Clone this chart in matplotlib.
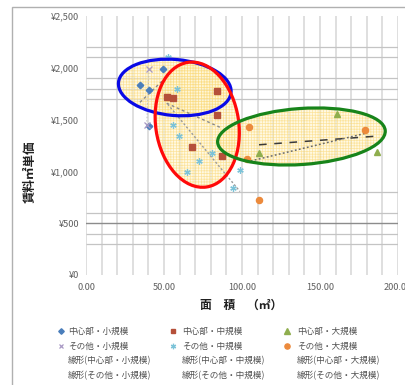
import numpy as np
import matplotlib
matplotlib.use('Agg')
import matplotlib.pyplot as plt
from matplotlib.patches import Ellipse, Rectangle
from matplotlib.lines import Line2D
from matplotlib.transforms import ScaledTranslation

plt.rcParams['font.family'] = ['Noto Sans CJK JP', 'DejaVu Sans']
plt.rcParams['hatch.linewidth'] = 0.5

# --- data (面積 ㎡, 賃料㎡単価 円) ---
center_small_x = [34.6, 40.4, 40.4, 49.2]
center_small_y = [1834, 1786, 1438, 1988]
center_mid_x = [51.7, 56.0, 83.8, 84.2, 67.8, 87.4]
center_mid_y = [1718, 1708, 1779, 1541, 1233, 1149]
center_large_x = [110.9, 160.7, 186.7]
center_large_y = [1175, 1551, 1184]
other_small_x = [40.4, 38.9]
other_small_y = [1988, 1448]
other_mid_x = [52.4, 58.1, 56.0, 59.6, 64.6, 72.6, 80.6, 98.7, 94.4]
other_mid_y = [2107, 1795, 1448, 1337, 999, 1103, 1181, 1014, 843]
other_large_x = [103.0, 104.7, 110.9, 178.8]
other_large_y = [1120, 1431, 724, 1400]

series_names = ['中心部・小規模', '中心部・中規模', '中心部・大規模',
                'その他・小規模', 'その他・中規模', 'その他・大規模']
trend_names = ['線形(中心部・小規模)', '線形(中心部・中規模)', '線形(中心部・大規模)',
               '線形(その他・小規模)', '線形(その他・中規模)', '線形(その他・大規模)']

x_ticks = [0, 50, 100, 150, 200]
y_ticks = [0, 500, 1000, 1500, 2000, 2500]
hgrid_vals = [2200, 2100, 1900, 1800, 1700, 800, 600, 400, 300]

# circled groups: centre (data), width/height (inch), angle, colour
ell_cx = [56.9, 71.3, 138.1]
ell_cy = [1810, 1451, 1337]
ell_w = [1.13, 0.83, 1.68]
ell_h = [0.56, 1.26, 0.56]
ell_ang = [-5, 8.6, 4]
ell_col = ['#0a0ae6', '#ff0a0a', '#17841a']

styles = [
    dict(marker='D', color='#4a7ebb', ms=3.3),
    dict(marker='s', color='#b5503a', ms=4.2),
    dict(marker='^', color='#8fae4e', ms=4.6),
    dict(marker='x', color='#a898c4', ms=4.0, mew=0.9),
    dict(marker=(6, 2, 0), color='#7cc3d8', ms=4.6, mew=0.9),
    dict(marker='o', color='#ec8a3c', ms=4.4),
]
trend_styles = [
    dict(color='#8a8a8a', ls=(0, (2, 2)), lw=1.0),
    dict(color='#8a8a8a', ls=(0, (2, 2)), lw=1.0),
    dict(color='#3a3a3a', ls=(0, (5, 5)), lw=1.1),
    dict(color='#c0c0c0', ls=(0, (1.5, 2)), lw=0.7),
    dict(color='#9a9a9a', ls=(0, (1.5, 1.5)), lw=1.0),
    dict(color='#6a6a6a', ls=(0, (1.2, 1.5)), lw=1.1),
]

W, H = 405, 385
fig = plt.figure(figsize=(W / 100, H / 100), dpi=100)
fig.patch.set_facecolor('white')

# outer chart frame (cut at the right/bottom)
fig.add_artist(Rectangle((12 / W, -0.1), 1.2, 1 - 7 / H + 0.1, transform=fig.transFigure,
                         fill=False, edgecolor='#b0b0b0', lw=1.0))

ax = fig.add_axes([86 / W, 1 - 275 / H, (398 - 86) / W, (275 - 16) / H])
ax.set_xlim(0, 200)
ax.set_ylim(0, 2500)
for s in ax.spines.values():
    s.set_visible(False)

# grid
ax.vlines(np.arange(0, 201, 10), 0, 2500, color='#dcdcdc', lw=1.3, zorder=0)
ax.hlines(hgrid_vals, 0, 200, color='#c4c4c4', lw=0.9, zorder=0)
ax.hlines([500], -3, 200, color='#8c8c8c', lw=1.0, zorder=0)

ax.set_xticks(x_ticks)
ax.set_xticklabels([f'{v:.2f}' for v in x_ticks])
ax.set_yticks(y_ticks)
ax.set_yticklabels([f'¥{v:,}' for v in y_ticks])
ax.tick_params(length=0, labelsize=6.6, labelcolor='#606060')
ax.tick_params(axis='x', pad=6)
ax.tick_params(axis='y', pad=5)

all_x = [center_small_x, center_mid_x, center_large_x, other_small_x, other_mid_x, other_large_x]
all_y = [center_small_y, center_mid_y, center_large_y, other_small_y, other_mid_y, other_large_y]

# ellipses (hatched yellow fill + coloured outline)
for cx, cy, w, h, a, c in zip(ell_cx, ell_cy, ell_w, ell_h, ell_ang, ell_col):
    tr = fig.dpi_scale_trans + ScaledTranslation(cx, cy, ax.transData)
    ax.add_patch(Ellipse((0, 0), w, h, angle=a, transform=tr, facecolor=(1.0, 0.96, 0.80, 0.55),
                         edgecolor=(0.98, 0.82, 0.38, 0.55), hatch='++++++', lw=0, zorder=1))
    ax.add_patch(Ellipse((0, 0), w, h, angle=a, transform=tr, fill=False,
                         edgecolor=c, lw=2.3, zorder=5))

# points and linear trend lines
for xs, ys, st, ts in zip(all_x, all_y, styles, trend_styles):
    ax.plot(xs, ys, ls='none', zorder=3, **st)
    k, b = np.polyfit(xs, ys, 1)
    tx = np.array([min(xs), max(xs)])
    ax.plot(tx, k * tx + b, zorder=2, **ts)

# axis titles
fig.text(30 / W, 1 - 172 / H, '賃料㎡単価', rotation=90, fontsize=9, fontweight='bold',
         ha='center', va='center', color='#202020')
fig.text(241 / W, 1 - 305 / H, '面　積　（㎡）', fontsize=8.5, fontweight='bold',
         ha='center', va='center', color='#202020')

# legend (3 columns, row by row)
col_mark = [61, 173, 287]
col_text = [68, 182, 297]
row_y = [331, 346, 361, 376]
leg_labels = series_names + trend_names
for i, lab in enumerate(leg_labels):
    r, c = divmod(i, 3)
    yy = 1 - row_y[r] / H
    if i < 6:
        st = dict(styles[i])
        st['ms'] = st['ms'] * 0.85
        fig.add_artist(Line2D([col_mark[c] / W], [yy], ls='none', transform=fig.transFigure, **st))
    fig.text(col_text[c] / W, yy, lab, fontsize=6.2, color='#505050', ha='left', va='center')

fig.savefig('out.png', dpi=100)
